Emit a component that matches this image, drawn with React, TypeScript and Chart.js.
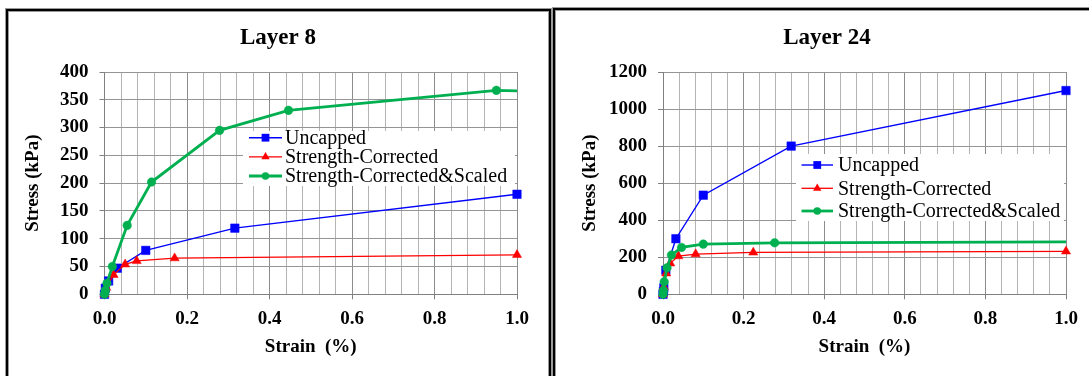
import React, { useEffect, useRef } from "react";
import { Chart, registerables } from "chart.js";

Chart.register(...registerables);

// ---------- DATA ----------
const seriesNames = ["Uncapped", "Strength-Corrected", "Strength-Corrected&Scaled"];
const xTickLabels = ["0.0", "0.2", "0.4", "0.6", "0.8", "1.0"];
const xMajorStep = 0.2;
const xMinorStep = 0.04;

// Layer 8
const l8Title = "Layer 8";
const l8YMax = 400;
const l8YStep = 50;
const l8UncappedStrain = [0, 0.002, 0.01, 0.031, 0.1, 0.316, 1.0];
const l8UncappedStress = [0, 11, 24, 47, 79, 119, 180];
const l8CorrectedStrain = [0, 0.004, 0.022, 0.05, 0.078, 0.17, 1.0];
const l8CorrectedStress = [0, 12, 35, 54, 60, 65, 71];
const l8ScaledStrain = [0, 0.002, 0.006, 0.019, 0.055, 0.114, 0.279, 0.446, 0.95, 1.0];
const l8ScaledStress = [0, 7, 20, 50, 124, 202, 295, 331, 367, 366];

// Layer 24
const l24Title = "Layer 24";
const l24YMax = 1200;
const l24YStep = 200;
const l24UncappedStrain = [0, 0.001, 0.002, 0.007, 0.032, 0.1, 0.318, 1.0];
const l24UncappedStress = [0, 15, 35, 130, 300, 535, 800, 1100];
const l24CorrectedStrain = [0, 0.002, 0.008, 0.018, 0.038, 0.081, 0.224, 1.0];
const l24CorrectedStress = [0, 40, 113, 167, 206, 217, 226, 232];
const l24ScaledStrain = [0, 0.001, 0.003, 0.01, 0.021, 0.046, 0.1, 0.277, 1.0];
const l24ScaledStress = [0, 20, 68, 143, 212, 253, 271, 278, 283];

// ---------- STYLE ----------
const FONT = "'Liberation Serif', 'Times New Roman', serif";
const colors = ["#0000FF", "#FF0000", "#00B050"];
const lineWidths = [1.4, 1.3, 2.8];
const pointStyles = ["rect", "triangle", "circle"] as const;
const pointRadii = [6, 5.3, 4.3];

const toPts = (xs: number[], ys: number[]) => xs.map((x, i) => ({ x, y: ys[i] }));

type Layout = {
  width: number;
  axisLeft: number;
  plotRight: number;
  titleX: number;
  yTitleX: number;
  legend: { x: number; y: number; w: number; h: number; rows: number[]; lineX0: number; lineX1: number; textX: number };
};

function drawMarker(ctx: CanvasRenderingContext2D, style: string, x: number, y: number, r: number) {
  ctx.beginPath();
  if (style === "rect") {
    const s = r * Math.SQRT1_2;
    ctx.rect(x - s, y - s, 2 * s, 2 * s);
  } else if (style === "triangle") {
    ctx.moveTo(x, y - r);
    ctx.lineTo(x + r * 0.866, y + r * 0.5);
    ctx.lineTo(x - r * 0.866, y + r * 0.5);
    ctx.closePath();
  } else {
    ctx.arc(x, y, r, 0, Math.PI * 2);
  }
  ctx.fill();
}

function decorPlugin(title: string, lay: Layout) {
  return {
    id: "decor",
    afterDraw(chart: any) {
      const ctx: CanvasRenderingContext2D = chart.ctx;
      const ca = chart.chartArea;
      ctx.save();
      ctx.fillStyle = "#000";
      // title
      ctx.font = `bold 23px ${FONT}`;
      ctx.textAlign = "center";
      ctx.textBaseline = "alphabetic";
      ctx.fillText(title, lay.titleX, 44);
      // x title
      ctx.font = `bold 19px ${FONT}`;
      ctx.textBaseline = "middle";
      ctx.fillText("Strain  (%)", (ca.left + ca.right) / 2, 347);
      // y title
      ctx.save();
      ctx.translate(lay.yTitleX, (ca.top + ca.bottom) / 2);
      ctx.rotate(-Math.PI / 2);
      ctx.fillText("Stress (kPa)", 0, 0);
      ctx.restore();
      // legend
      const L = lay.legend;
      ctx.fillStyle = "#fff";
      ctx.fillRect(L.x, L.y, L.w, L.h);
      ctx.font = `20px ${FONT}`;
      ctx.textAlign = "left";
      ctx.textBaseline = "middle";
      seriesNames.forEach((name, i) => {
        const y = L.rows[i];
        ctx.strokeStyle = colors[i];
        ctx.lineWidth = lineWidths[i];
        ctx.beginPath();
        ctx.moveTo(L.lineX0, y);
        ctx.lineTo(L.lineX1, y);
        ctx.stroke();
        ctx.fillStyle = colors[i];
        drawMarker(ctx, pointStyles[i], (L.lineX0 + L.lineX1) / 2, y, pointRadii[i] - 0.5);
        ctx.fillStyle = "#000";
        ctx.fillText(name, L.textX, y + 1);
      });
      ctx.restore();
    },
  };
}

function makeConfig(
  title: string,
  lay: Layout,
  yMax: number,
  yStep: number,
  series: { x: number; y: number }[][]
) {
  const isMajor = (v: number) => Math.abs(v / xMajorStep - Math.round(v / xMajorStep)) < 1e-6;
  return {
    type: "line",
    data: {
      datasets: series.map((pts, i) => ({
        label: seriesNames[i],
        data: pts,
        borderColor: colors[i],
        backgroundColor: colors[i],
        borderWidth: lineWidths[i],
        pointStyle: pointStyles[i],
        pointRadius: (c: any) => (i === 2 && c.dataIndex === pts.length - 1 ? 0 : pointRadii[i]),
        pointBorderWidth: 0.5,
        pointBorderColor: colors[i],
        pointBackgroundColor: colors[i],
        tension: 0,
        clip: false,
        order: 2 - i,
      })),
    },
    options: {
      animation: false,
      responsive: false,
      devicePixelRatio: 1,
      layout: { padding: { left: 0, right: lay.width - lay.plotRight, top: 72, bottom: 376 - 294.3 - 40 } },
      plugins: { legend: { display: false }, title: { display: false }, tooltip: { enabled: false } },
      scales: {
        x: {
          type: "linear",
          min: 0,
          max: 1,
          afterFit: (s: any) => {
            s.height = 40;
          },
          afterBuildTicks: (s: any) => {
            const t = [];
            for (let k = 0; k <= Math.round(1 / xMinorStep); k++) t.push({ value: +(k * xMinorStep).toFixed(4) });
            s.ticks = t;
          },
          ticks: {
            autoSkip: false,
            maxRotation: 0,
            padding: 8,
            color: "#000",
            font: { family: FONT, size: 19, weight: "bold" },
            callback: (v: number) => (isMajor(v) ? xTickLabels[Math.round(v / xMajorStep)] : ""),
          },
          grid: {
            color: (c: any) => (c.tick && isMajor(c.tick.value) ? "#8c8c8c" : "#b4b4b4"),
            tickColor: (c: any) => (c.tick && isMajor(c.tick.value) ? "#808080" : "rgba(0,0,0,0)"),
            tickLength: 5,
            lineWidth: 1,
          },
          border: { color: "#808080" },
        },
        y: {
          type: "linear",
          min: 0,
          max: yMax,
          afterFit: (s: any) => {
            s.width = lay.axisLeft;
          },
          ticks: {
            stepSize: yStep,
            padding: 11,
            color: "#000",
            font: { family: FONT, size: 19, weight: "bold" },
            callback: (v: number) => String(v),
          },
          grid: { color: "#959595", tickColor: "#808080", tickLength: 5, lineWidth: 1 },
          border: { color: "#808080" },
        },
      },
    },
    plugins: [decorPlugin(title, lay)],
  };
}

const layout8: Layout = {
  width: 550,
  axisLeft: 104.5,
  plotRight: 517,
  titleX: 278,
  yTitleX: 33,
  legend: { x: 243, y: 131, w: 272, h: 55, rows: [137.7, 156.8, 176], lineX0: 249, lineX1: 282, textX: 285 },
};

const layout24: Layout = {
  width: 538,
  axisLeft: 112,
  plotRight: 515,
  titleX: 276,
  yTitleX: 39,
  legend: { x: 245, y: 154, w: 268, h: 67, rows: [165, 188.3, 211], lineX0: 250.5, lineX1: 282, textX: 287 },
};

function ChartCanvas({ config, left, width }: { config: any; left: number; width: number }) {
  const ref = useRef<HTMLCanvasElement | null>(null);
  useEffect(() => {
    if (!ref.current) return;
    const chart = new Chart(ref.current, config);
    return () => chart.destroy();
  }, []);
  return (
    <canvas
      ref={ref}
      width={width}
      height={376}
      style={{ position: "absolute", left, top: 0, width, height: 376, zIndex: 2 }}
    />
  );
}

export default function App() {
  useEffect(() => {
    document.body.style.margin = "0";
    document.body.style.background = "#fff";
  }, []);
  const panelStyle = (left: number, top: number, width: number): React.CSSProperties => ({
    position: "absolute",
    left,
    top,
    width,
    height: 420,
    boxSizing: "border-box",
    border: "2px solid #000",
    boxShadow: "0 0 0 1px #9a9a9a, inset 0 0 0 1px #9a9a9a",
    background: "#fff",
  });
  const cfg8 = makeConfig(l8Title, layout8, l8YMax, l8YStep, [
    toPts(l8UncappedStrain, l8UncappedStress),
    toPts(l8CorrectedStrain, l8CorrectedStress),
    toPts(l8ScaledStrain, l8ScaledStress),
  ]);
  const cfg24 = makeConfig(l24Title, layout24, l24YMax, l24YStep, [
    toPts(l24UncappedStrain, l24UncappedStress),
    toPts(l24CorrectedStrain, l24CorrectedStress),
    toPts(l24ScaledStrain, l24ScaledStress),
  ]);
  return (
    <div style={{ position: "relative", width: 1089, height: 376, overflow: "hidden", background: "#fff" }}>
      <div style={panelStyle(6, 9, 545)} />
      <div style={panelStyle(553, 8, 600)} />
      <ChartCanvas config={cfg8} left={0} width={550} />
      <ChartCanvas config={cfg24} left={551} width={538} />
    </div>
  );
}
